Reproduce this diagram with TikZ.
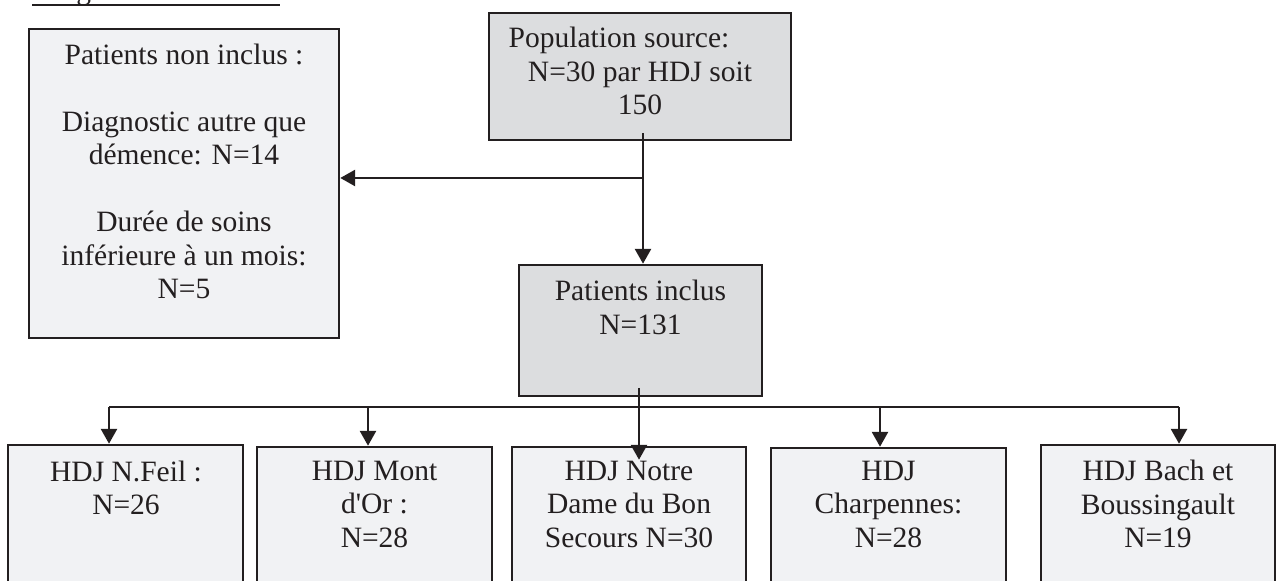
\documentclass[tikz,border=0pt]{standalone}
\usepackage{fontspec}
\setmainfont{Liberation Serif}
\usepackage{tikz}
\usetikzlibrary{arrows.meta,positioning,fit,calc}
\definecolor{clair}{HTML}{F1F2F4}
\definecolor{fonce}{HTML}{DCDDDF}
\definecolor{noir}{HTML}{231F20}
\tikzset{
  boite/.style={draw=noir,line width=0.7pt,fill=clair,inner sep=0pt},
  boitefoncee/.style={boite,fill=fonce},
  texte/.style={inner sep=0pt,align=center,anchor=north,text=noir,
                font=\fontsize{8.4}{9.5}\selectfont,execute at begin node=\strut},
  lien/.style={draw=noir,line width=0.8pt},
  fleche/.style={lien,-{Triangle[length=1.5mm,width=1.6mm]}}
}

\begin{document}
\begin{tikzpicture}[x=0.1mm,y=-0.1mm]
  \useasboundingbox (0,0) rectangle (1281,581);
  \clip (0,0) rectangle (1281,581);

  \node[texte,anchor=base west] (titre) at (33,0) {Diagramme de flux :};
  \draw[lien] ($(titre.base west)+(-1,5)$) -- ($(titre.base east)+(0,5)$);

  \node[boite,fit={(29,29) (339,338)}] (nonincl) {};
  \node[texte] (t-nonincl) at (184,43.5)
    {Patients non inclus :\\[9.5pt]Diagnostic autre que\\démence: N=14\\[9.5pt]%
     Durée de soins\\inférieure à un mois:\\N=5};

  \node[boitefoncee,fit={(489,13) (791,140)}] (popsrc) {};
  \node[texte] (t-popsrc) at (640,26.5)
    {Population source:\hspace*{4.2mm}\\N=30 par HDJ soit\\150};

  \node[boitefoncee,fit={(519,265) (762,396)}] (inclus) {};
  \node[texte] (t-inclus) at (640.5,279.5) {Patients inclus\\N=131};

  \node[boite,fit={(8,445) (243,600)}] (hdj1) {};
  \node[boite,fit={(257,447) (492,600)}] (hdj2) {};
  \node[boite,fit={(512,447) (746,600)}] (hdj3) {};
  \node[boite,fit={(771,448) (1006,600)}] (hdj4) {};
  \node[boite,fit={(1041,445) (1275,600)}] (hdj5) {};

  \node[texte] (t-hdj1) at (126,460) {HDJ N.Feil :\\N=26};
  \node[texte] (t-hdj2) at (374.5,460.5) {HDJ Mont\\d\textquotesingle Or :\\N=28};
  \node[texte] (t-hdj3) at (629,460.5) {HDJ Notre\\Dame du Bon\\Secours N=30};
  \node[texte] (t-hdj4) at (888.5,460.5) {HDJ\\Charpennes:\\N=28};
  \node[texte] (t-hdj5) at (1158,459.5) {HDJ Bach et\\Boussingault\\N=19};

  \coordinate (depart) at (643,133);
  \coordinate (jonction) at (643,178);
  \draw[lien] (depart) -- (jonction);
  \draw[fleche] (jonction) -- (jonction -| nonincl.east);
  \draw[fleche] (jonction) -- (jonction |- inclus.north);

  \coordinate (sortie) at (639,388);
  \foreach \n/\x in {1/109,2/368,4/880,5/1179}
    \coordinate (b\n) at (\x,407);
  \draw[lien] (b1) -- (b5);
  \draw[fleche] (sortie) -- ($(hdj3.north -| sortie)+(0,14)$);
  \foreach \n in {1,2,4,5}
    \draw[fleche] (b\n) -- (b\n |- hdj\n.north);
\end{tikzpicture}
\end{document}
